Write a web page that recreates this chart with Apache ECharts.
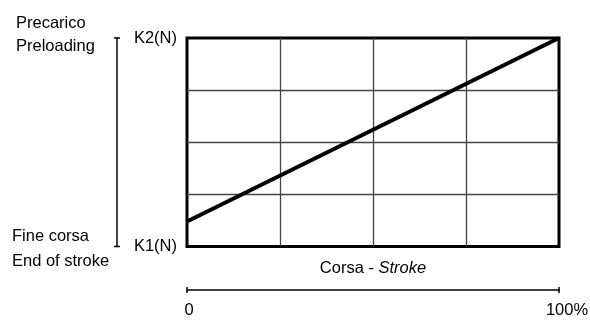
<!DOCTYPE html>
<html>
<head>
<meta charset="utf-8">
<script src="https://cdn.jsdelivr.net/npm/echarts@6/dist/echarts.min.js"></script>
<style>
  html, body { margin: 0; padding: 0; background: #fff; }
  #chart { width: 590px; height: 322px; }
</style>
</head>
<body>
<div id="chart"></div>
<script>
// Spring force over the stroke: from K1 at end of stroke to K2 at preload
const strokePct = [0, 100];
const forceLevel = [12, 100];
const forceTickLabels = { 0: 'K1(N)', 100: 'K2(N)' };
const strokeTickLabels = { 0: '0', 100: '100%' };
const topCaption = ['Precarico', 'Preloading'];
const bottomCaption = ['Fine corsa', 'End of stroke'];

const FONT = '"Liberation Sans", Arial, sans-serif';
const FS = 16.5;

const chart = echarts.init(document.getElementById('chart'), null, { renderer: 'canvas' });

const gridLine = { show: true, showMinLine: false, showMaxLine: false, lineStyle: { color: '#444', width: 1.3 } };

chart.setOption({
  animation: false,
  backgroundColor: '#fff',
  textStyle: { fontFamily: FONT },
  grid: {
    left: 187, top: 38, width: 372, height: 208.5,
    outerBoundsMode: 'none', containLabel: false,
    show: true, borderColor: '#000', borderWidth: 3, backgroundColor: 'transparent'
  },
  xAxis: [
    {
      type: 'value', min: 0, max: 100, interval: 25,
      axisLine: { show: false }, axisTick: { show: false }, axisLabel: { show: false },
      splitLine: gridLine,
      name: '{n|Corsa - }{i|Stroke}',
      nameLocation: 'middle', nameGap: 13,
      nameTextStyle: {
        rich: {
          n: { fontFamily: FONT, fontSize: FS, color: '#000' },
          i: { fontFamily: FONT, fontSize: FS, color: '#000', fontStyle: 'italic' }
        }
      }
    },
    {
      type: 'value', min: 0, max: 100, interval: 100,
      position: 'bottom', offset: 43.5,
      axisLine: { show: true, onZero: false, symbol: ['rect', 'rect'], symbolSize: [6, 1.5], lineStyle: { color: '#000', width: 1.5 } },
      axisTick: { show: false },
      splitLine: { show: false },
      axisLabel: {
        show: true, margin: 12, color: '#000', fontFamily: FONT, fontSize: FS,
        formatter: v => (v === 0 ? '{lo|' : '{hi|') + (strokeTickLabels[v] || '') + '}',
        rich: {
          lo: { fontFamily: FONT, fontSize: FS, color: '#000', padding: [0, 0, 0, 4] },
          hi: { fontFamily: FONT, fontSize: FS, color: '#000', padding: [0, 0, 0, 16] }
        }
      }
    }
  ],
  yAxis: [
    {
      type: 'value', min: 0, max: 100, interval: 25,
      axisLine: { show: false }, axisTick: { show: false },
      splitLine: gridLine,
      axisLabel: {
        margin: 10, color: '#000', fontFamily: FONT, fontSize: FS,
        formatter: v => forceTickLabels[v] || ''
      }
    },
    {
      type: 'value', min: 0, max: 100, position: 'left', offset: 70,
      axisLine: { show: true, onZero: false, symbol: ['rect', 'rect'], symbolSize: [6, 1.5], lineStyle: { color: '#000', width: 1.5 } },
      axisTick: { show: false }, axisLabel: { show: false }, splitLine: { show: false }
    }
  ],
  graphic: [
    { type: 'text', left: 16, top: 12, style: { text: topCaption.join('\n'), font: FS + 'px ' + FONT, fill: '#000', lineHeight: 23 } },
    { type: 'text', left: 12, top: 224, style: { text: bottomCaption.join('\n'), font: FS + 'px ' + FONT, fill: '#000', lineHeight: 25 } }
  ],
  series: [
    {
      type: 'line',
      xAxisIndex: 0, yAxisIndex: 0,
      data: strokePct.map((x, i) => [x, forceLevel[i]]),
      showSymbol: false, symbol: 'none',
      lineStyle: { color: '#000', width: 4 },
      z: 5
    }
  ]
});
</script>
</body>
</html>
